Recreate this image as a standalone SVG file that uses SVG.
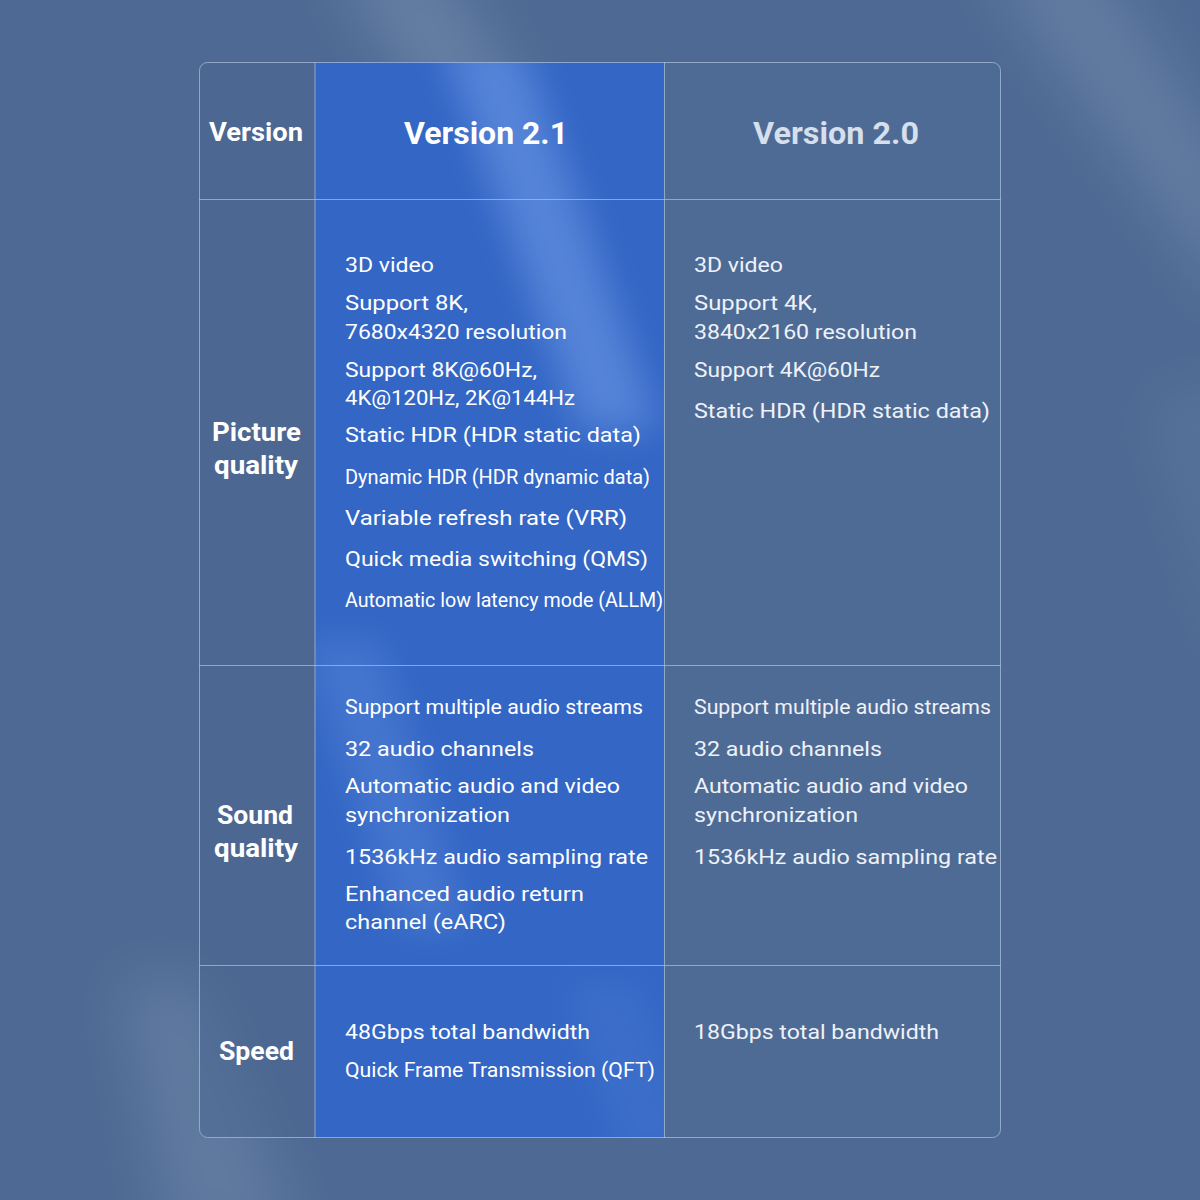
<svg xmlns="http://www.w3.org/2000/svg" width="1200" height="1200" viewBox="0 0 1200 1200">
<style>
.b{font-family:Roboto,"Liberation Sans",sans-serif;font-size:21px;fill:#ffffff}
.c{font-family:Roboto,"Liberation Sans",sans-serif;font-size:21px;fill:#eef2f8}
.h{font-family:Roboto,"Liberation Sans",sans-serif;font-weight:bold;fill:#ffffff}
.grid{stroke:#a9bcd9;stroke-opacity:0.75;stroke-width:1;fill:none}
.glow{fill:#ffffff}
.bglow{fill:#9cc2ff}
</style>
<defs>
<filter id="blur" x="-50%" y="-50%" width="200%" height="200%">
<feGaussianBlur stdDeviation="28"/>
</filter>
<filter id="blur2" x="-50%" y="-50%" width="200%" height="200%">
<feGaussianBlur stdDeviation="18"/>
</filter>
<clipPath id="blueclip">
<rect x="315" y="62" width="349" height="1076"/>
</clipPath>
</defs>

<g id="background">
<rect x="0" y="0" width="1200" height="1200" fill="#4e6a94"/>
<polygon class="glow" points="330,-40 440,-40 620,260 520,260" opacity="0.13" filter="url(#blur)"/>
<polygon class="glow" points="980,-40 1100,-40 1240,180 1240,320" opacity="0.11" filter="url(#blur)"/>
<polygon class="glow" points="120,980 200,980 300,1240 170,1240" opacity="0.10" filter="url(#blur)"/>
<polygon class="glow" points="1150,400 1240,380 1240,700" opacity="0.05" filter="url(#blur)"/>
</g>

<g id="table">
<path d="M207,62 H315 V1138 H207 Q199,1138 199,1130 V70 Q199,62 207,62 Z" fill="#4a6590" fill-opacity="0.5"/>
<rect x="315" y="62" width="349" height="1076" fill="#3366c5"/>
<g clip-path="url(#blueclip)">
<polygon class="bglow" points="440,40 520,40 660,430 580,430" opacity="0.32" filter="url(#blur2)"/>
<polygon class="bglow" points="300,640 380,640 470,930 400,930" opacity="0.16" filter="url(#blur2)"/>
<polygon class="bglow" points="560,980 640,980 700,1160 620,1160" opacity="0.08" filter="url(#blur2)"/>
</g>
<path d="M664,62 H993 Q1001,62 1001,70 V1130 Q1001,1138 993,1138 H664 Z" fill="#506d98" fill-opacity="0.4"/>
</g>

<g id="connectors">
<rect class="grid" x="199.5" y="62.5" width="801" height="1075" rx="8"/>
<line class="grid" x1="315" y1="62" x2="315" y2="1138"/>
<line class="grid" x1="664.5" y1="62" x2="664.5" y2="1138"/>
<line class="grid" x1="199" y1="199.5" x2="1001" y2="199.5"/>
<line class="grid" x1="199" y1="665.5" x2="1001" y2="665.5"/>
<line class="grid" x1="199" y1="965.5" x2="1001" y2="965.5"/>
</g>

<g id="header-row">
<text class="h" x="209" y="141" font-size="25" textLength="94" lengthAdjust="spacingAndGlyphs">Version</text>
<text class="h" x="404" y="144" font-size="32" textLength="164" lengthAdjust="spacingAndGlyphs">Version 2.1</text>
<text class="h" x="753" y="144" font-size="32" textLength="166" lengthAdjust="spacingAndGlyphs" style="fill:#d6dfec">Version 2.0</text>
</g>

<g id="picture-quality">
<text class="h" x="212" y="441" font-size="25" textLength="89" lengthAdjust="spacingAndGlyphs">Picture</text>
<text class="h" x="214" y="474" font-size="25" textLength="84" lengthAdjust="spacingAndGlyphs">quality</text>
<text class="b" x="345" y="272" textLength="89" lengthAdjust="spacingAndGlyphs">3D video</text>
<text class="b" x="345" y="310" textLength="123" lengthAdjust="spacingAndGlyphs">Support 8K,</text>
<text class="b" x="345" y="339" textLength="222" lengthAdjust="spacingAndGlyphs">7680x4320 resolution</text>
<text class="b" x="345" y="377" textLength="192" lengthAdjust="spacingAndGlyphs">Support 8K@60Hz,</text>
<text class="b" x="345" y="405" textLength="230" lengthAdjust="spacingAndGlyphs">4K@120Hz, 2K@144Hz</text>
<text class="b" x="345" y="442" textLength="296" lengthAdjust="spacingAndGlyphs">Static HDR (HDR static data)</text>
<text class="b" x="345" y="484" textLength="305" lengthAdjust="spacingAndGlyphs">Dynamic HDR (HDR dynamic data)</text>
<text class="b" x="345" y="525" textLength="282" lengthAdjust="spacingAndGlyphs">Variable refresh rate (VRR)</text>
<text class="b" x="345" y="566" textLength="303" lengthAdjust="spacingAndGlyphs">Quick media switching (QMS)</text>
<text class="b" x="345" y="607" textLength="318" lengthAdjust="spacingAndGlyphs">Automatic low latency mode (ALLM)</text>
<text class="c" x="694" y="272" textLength="89" lengthAdjust="spacingAndGlyphs">3D video</text>
<text class="c" x="694" y="310" textLength="123" lengthAdjust="spacingAndGlyphs">Support 4K,</text>
<text class="c" x="694" y="339" textLength="223" lengthAdjust="spacingAndGlyphs">3840x2160 resolution</text>
<text class="c" x="694" y="377" textLength="186" lengthAdjust="spacingAndGlyphs">Support 4K@60Hz</text>
<text class="c" x="694" y="418" textLength="296" lengthAdjust="spacingAndGlyphs">Static HDR (HDR static data)</text>
</g>

<g id="sound-quality">
<text class="h" x="217" y="824" font-size="25" textLength="76" lengthAdjust="spacingAndGlyphs">Sound</text>
<text class="h" x="214" y="857" font-size="25" textLength="84" lengthAdjust="spacingAndGlyphs">quality</text>
<text class="b" x="345" y="714" textLength="298" lengthAdjust="spacingAndGlyphs">Support multiple audio streams</text>
<text class="b" x="345" y="756" textLength="189" lengthAdjust="spacingAndGlyphs">32 audio channels</text>
<text class="b" x="345" y="793" textLength="275" lengthAdjust="spacingAndGlyphs">Automatic audio and video</text>
<text class="b" x="345" y="822" textLength="165" lengthAdjust="spacingAndGlyphs">synchronization</text>
<text class="b" x="345" y="864" textLength="303" lengthAdjust="spacingAndGlyphs">1536kHz audio sampling rate</text>
<text class="b" x="345" y="901" textLength="239" lengthAdjust="spacingAndGlyphs">Enhanced audio return</text>
<text class="b" x="345" y="929" textLength="161" lengthAdjust="spacingAndGlyphs">channel (eARC)</text>
<text class="c" x="694" y="714" textLength="297" lengthAdjust="spacingAndGlyphs">Support multiple audio streams</text>
<text class="c" x="694" y="756" textLength="188" lengthAdjust="spacingAndGlyphs">32 audio channels</text>
<text class="c" x="694" y="793" textLength="274" lengthAdjust="spacingAndGlyphs">Automatic audio and video</text>
<text class="c" x="694" y="822" textLength="164" lengthAdjust="spacingAndGlyphs">synchronization</text>
<text class="c" x="694" y="864" textLength="303" lengthAdjust="spacingAndGlyphs">1536kHz audio sampling rate</text>
</g>

<g id="speed">
<text class="h" x="219" y="1060" font-size="25" textLength="75" lengthAdjust="spacingAndGlyphs">Speed</text>
<text class="b" x="345" y="1039" textLength="245" lengthAdjust="spacingAndGlyphs">48Gbps total bandwidth</text>
<text class="b" x="345" y="1077" textLength="310" lengthAdjust="spacingAndGlyphs">Quick Frame Transmission (QFT)</text>
<text class="c" x="694" y="1039" textLength="245" lengthAdjust="spacingAndGlyphs">18Gbps total bandwidth</text>
</g>
</svg>
